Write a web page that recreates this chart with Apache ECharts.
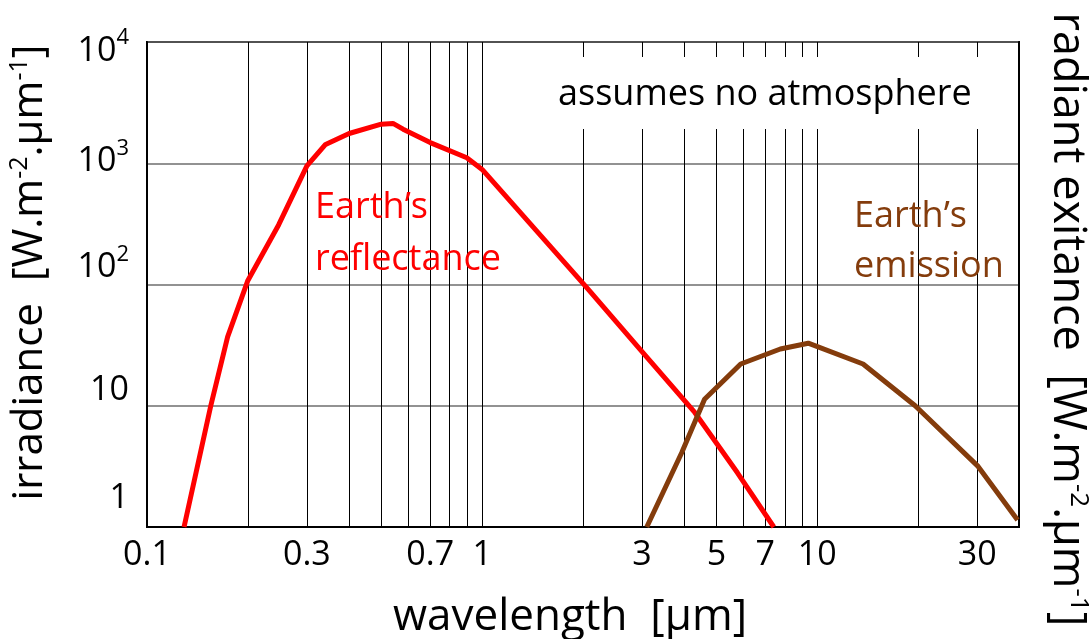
<!DOCTYPE html>
<html>
<head>
<meta charset="utf-8">
<script src="https://cdn.jsdelivr.net/npm/echarts@6/dist/echarts.min.js"></script>
<style>
  html, body { margin: 0; padding: 0; background: #fff; }
  #chart { width: 1089px; height: 639px; }
</style>
</head>
<body>
<div id="chart"></div>
<script>
// ---- data ----
// Earth's reflectance: [wavelength µm, irradiance W.m-2.µm-1]
const reflectance = [
  [0.129, 1], [0.155, 10], [0.174, 37], [0.2, 108], [0.247, 310], [0.3, 950],
  [0.341, 1430], [0.401, 1760], [0.5, 2100], [0.542, 2130], [0.581, 1910],
  [0.7, 1480], [0.9, 1110], [1.0, 890], [2.04, 96], [3.0, 28], [4.31, 8.8],
  [5.78, 2.8], [7.42, 1]
];
// Earth's emission: [wavelength µm, radiant exitance W.m-2.µm-1]
const emission = [
  [3.1, 1], [3.94, 4.1], [4.61, 11.3], [5.91, 22.1], [7.76, 29.4], [9.4, 32.8],
  [13.7, 22.1], [19.6, 10], [30.2, 3.16], [39.6, 1.14]
];
const xGridValues = [0.2, 0.3, 0.4, 0.5, 0.6, 0.7, 0.8, 0.9, 1, 2, 3, 4, 5, 6, 7, 8, 9, 10, 20, 30];
const xLabelValues = [0.1, 0.3, 0.7, 1, 3, 5, 7, 10, 30];
const yTickBase = ['1', '10', '10', '10', '10'];
const yTickExp = ['', '', '2', '3', '4'];

// ---- styling ----
const FONT = 'Open Sans';
const yLabelShift = [29, 15, 17, 2, -9]; // px upward, per decade label
function pad(s) { return s >= 0 ? [0, 0, 2 * s, 0] : [-2 * s, 0, 0, 0]; }
const yRich = {};
yTickBase.forEach(function (b, i) {
  yRich['m' + i] = { fontSize: 34, fontFamily: FONT, color: '#000', padding: pad(yLabelShift[i]) };
  yRich['s' + i] = { fontSize: 22, fontFamily: FONT, color: '#000', padding: pad(yLabelShift[i] + 13) };
});

const chart = echarts.init(document.getElementById('chart'));
chart.setOption({
  animation: false,
  backgroundColor: '#fff',
  grid: {
    left: 147, right: 70, top: 42, bottom: 112,
    show: true, borderColor: '#000', borderWidth: 2,
    containLabel: false, outerBoundsMode: 'none'
  },
  xAxis: {
    type: 'log', logBase: 10, min: 0.1, max: 40,
    name: 'wavelength  [μm]', nameLocation: 'middle', nameGap: 68,
    nameTextStyle: { fontSize: 44, fontFamily: FONT, color: '#000', padding: [0, 26, 0, 0] },
    axisLine: { show: true, lineStyle: { color: '#000', width: 2 } },
    axisTick: { show: false, customValues: xGridValues },
    minorTick: { show: false },
    axisLabel: {
      customValues: xLabelValues, margin: 11,
      fontSize: 34, fontFamily: FONT, color: '#000',
      formatter: function (v) { return String(parseFloat(Number(v).toPrecision(4))); }
    },
    splitLine: { show: true, lineStyle: { color: '#000', width: 1 } }
  },
  yAxis: [{
    type: 'log', logBase: 10, min: 1, max: 10000,
    name: 'irradiance  [W.m{sup|-2}.μm{sup|-1}]', nameLocation: 'middle', nameRotate: 90, nameGap: 93,
    nameTextStyle: {
      fontSize: 42, fontFamily: FONT, color: '#000', padding: [0, 0, 0, 24],
      rich: { sup: { fontSize: 25, fontFamily: FONT, color: '#000', padding: [0, 0, 22, 0] } }
    },
    axisLine: { show: true, lineStyle: { color: '#000', width: 2 } },
    axisTick: { show: false },
    axisLabel: {
      margin: 18,
      formatter: function (v) {
        const i = Math.round(Math.log10(v));
        return '{m' + i + '|' + yTickBase[i] + '}' + (yTickExp[i] ? '{s' + i + '|' + yTickExp[i] + '}' : '');
      },
      rich: yRich
    },
    splitLine: { show: true, lineStyle: { color: '#6e6e6e', width: 1.5 } }
  }, {
    type: 'log', logBase: 10, min: 1, max: 10000, position: 'right',
    name: 'radiant exitance  [W.m{sup|-2}.μm{sup|-1}]', nameLocation: 'middle', nameRotate: -90, nameGap: 24,
    nameTextStyle: {
      fontSize: 45, fontFamily: FONT, color: '#000', padding: [0, 0, 0, 70],
      rich: { sup: { fontSize: 26, fontFamily: FONT, color: '#000', padding: [0, 0, 22, 0] } }
    },
    axisLine: { show: true, lineStyle: { color: '#000', width: 2 } },
    axisTick: { show: false },
    axisLabel: { show: false },
    splitLine: { show: false }
  }],
  series: [{
    name: "Earth's reflectance", type: 'line', data: reflectance,
    xAxisIndex: 0, yAxisIndex: 0, showSymbol: false, symbol: 'none', smooth: false,
    lineStyle: { color: '#ff0000', width: 5 }, z: 5
  }, {
    name: "Earth's emission", type: 'line', data: emission,
    xAxisIndex: 0, yAxisIndex: 1, showSymbol: false, symbol: 'none', smooth: false,
    lineStyle: { color: '#843c0c', width: 5 }, z: 5
  }],
  graphic: [{
    type: 'text', left: 548, top: 57, z: 100,
    style: {
      text: 'assumes no atmosphere', fontSize: 36, fontFamily: FONT, fill: '#000',
      backgroundColor: '#fff', padding: [18, 12, 14, 10], lineHeight: 40
    }
  }, {
    type: 'text', x: 315, y: 234, z: 100,
    style: {
      text: 'Earth’s\nreflectance', fontSize: 36, fontFamily: FONT, fill: '#ff0000',
      lineHeight: 52, align: 'left', verticalAlign: 'middle'
    }
  }, {
    type: 'text', x: 854, y: 242, z: 100,
    style: {
      text: 'Earth’s\nemission', fontSize: 36, fontFamily: FONT, fill: '#843c0c',
      lineHeight: 50, align: 'left', verticalAlign: 'middle'
    }
  }]
});
</script>
</body>
</html>
